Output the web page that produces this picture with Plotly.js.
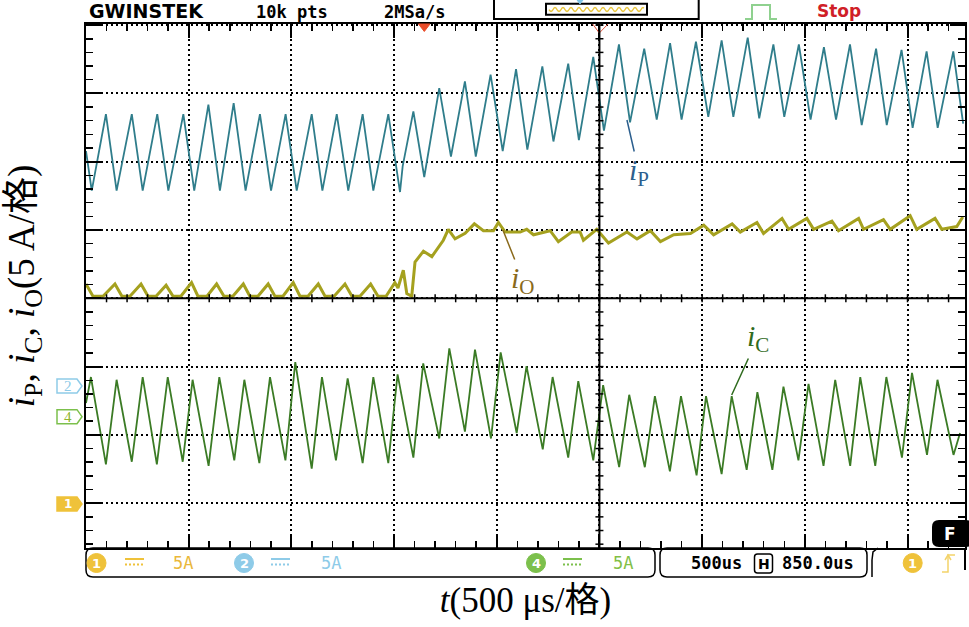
<!DOCTYPE html>
<html><head><meta charset="utf-8">
<script src="https://cdn.plot.ly/plotly-3.0.1.min.js"></script>
<style>html,body{margin:0;padding:0;background:#fff;}#chart{width:969px;height:627px;}#err{position:absolute;left:100px;top:100px;font:12px monospace;color:red;width:800px;white-space:pre-wrap;}</style>
</head><body><div id="chart"></div><div id="err"></div>
<script>
window.onerror = function(m,s,l,c,e){document.getElementById('err').textContent += 'ERR: '+m+' @'+l+':'+c+'\n'+(e&&e.stack?e.stack:'')+'\n';};
// ---- data (time in µs from left screen edge, current in A) ----
const ipT = [0,28,97,149,223,276,347,401,474,527,596,652,719,777,847,901,972,1026,1099,1151,1221,1277,1347,1399,1472,1504,1529,1542,1594,1647,1720,1777,1845,1898,1970,2029,2094,2149,2222,2276,2348,2400,2470,2522,2595,2649,2718,2779,2844,2900,2970,3030,3095,3152,3222,3278,3347,3400,3471,3528,3593,3652,3720,3777,3847,3899,3971,4025,4093,4147,4223,4271];
const ipA = [17.2,14.3,19.9,14.3,19.9,14.3,19.9,14.3,19.9,14.3,20.6,14.3,20.7,14.3,19.9,14.3,19.9,14.3,19.9,14.3,19.9,14.3,19.9,14.3,19.9,16.8,14.2,16.1,20.1,15.3,21.8,16.8,22.3,16.8,22.8,17.2,23.2,17.3,23.4,17.9,23.6,18.0,24.1,18.7,25.0,19.3,24.7,19.5,25.1,19.5,25.2,19.7,25.3,19.7,25.5,19.6,25.0,19.7,25.0,19.5,24.8,19.5,25.0,19.1,24.7,19.1,24.6,18.9,24.5,18.9,24.5,19.2];
const ioT = [0,34,83,141,175,214,268,302,341,390,424,462,514,545,589,636,672,715,766,798,837,887,920,959,1009,1042,1081,1131,1164,1208,1261,1295,1334,1386,1422,1461,1504,1519,1545,1562,1586,1602,1643,1684,1740,1764,1797,1846,1891,1935,1984,2008,2041,2114,2146,2179,2260,2300,2365,2406,2422,2487,2544,2634,2683,2748,2797,2862,2943,3008,3056,3146,3186,3267,3299,3389,3421,3510,3543,3632,3664,3762,3786,3883,3916,4013,4045,4134,4167,4240,4269];
const ioA = [16.1,15.2,15.2,16.1,15.2,15.2,16.1,15.2,15.2,16.0,15.2,15.2,16.2,15.2,15.2,16.1,15.2,15.2,16.1,15.2,15.2,16.1,15.2,15.2,16.2,15.2,15.2,16.1,15.2,15.2,16.1,15.2,15.2,16.1,15.2,15.2,16.2,15.8,17.1,15.4,15.2,17.7,18.5,18.1,19.3,20.1,19.4,19.8,20.5,20.0,20.0,20.6,19.9,19.9,20.1,19.7,20.0,19.2,19.9,19.9,19.3,20.1,19.1,19.9,19.4,20.0,19.2,19.7,19.8,20.4,19.7,20.5,19.9,20.6,19.8,20.9,20.1,20.9,20.1,20.7,20.0,20.9,20.1,20.8,20.1,21.1,20.1,20.9,20.1,20.3,21.0];
const icT = [0,24,97,149,223,276,345,398,471,519,597,649,722,771,844,896,971,1019,1099,1149,1217,1274,1347,1399,1472,1517,1594,1642,1720,1769,1845,1894,1972,2019,2097,2145,2224,2272,2348,2397,2470,2518,2596,2645,2721,2770,2843,2897,2973,3019,3095,3144,3217,3269,3342,3396,3469,3518,3591,3648,3721,3770,3843,3897,3973,4022,4095,4146,4224,4256];
const icA = [1.0,2.9,-3.5,2.7,-3.3,2.9,-3.5,2.9,-3.3,2.7,-3.6,2.9,-3.2,2.7,-3.4,2.9,-3.2,4.0,-3.8,2.9,-3.2,2.8,-3.4,2.9,-3.4,3.1,-3.0,3.9,-1.6,5.0,-1.1,4.9,-1.6,4.7,-1.2,3.7,-2.4,2.9,-3.0,2.6,-3.2,2.3,-3.7,1.6,-3.7,1.5,-4.0,1.5,-4.3,1.5,-4.2,1.5,-3.9,1.8,-3.9,2.2,-3.2,2.4,-3.6,2.7,-3.6,2.9,-3.6,2.9,-3.0,3.2,-2.8,2.7,-2.8,-1.2];

const ampsPerDiv = 5;
const offIP = -1.284, offIC = -1.733, offIO = -3.01;
const chanLabels = ['2','4','1'];
const scaleText = '5A', timebaseText = '500us', hposText = '850.0us';

const W=969,H=627,L=86,R=4,T=24,B=79;
const PW=W-L-R, PH=H-T-B;
const px = x => (x-L)/PW;
const py = y => (H-B-y)/PH;
const Y_MIN=-3.656, Y_MAX=4.016, X_MAX=4280;
const rng = g => [(Y_MIN-g)*ampsPerDiv,(Y_MAX-g)*ampsPerDiv];
const divP = d => (d-Y_MIN)/(Y_MAX-Y_MIN);

const cIP='#2f7d8b', cIO='#a5a11f', cIC='#3b7b25';

const traces = [
  {type:'scatter',x:ioT,y:ioA,xaxis:'x',yaxis:'y4',mode:'lines',line:{color:cIO,width:3},hoverinfo:'skip'},
  {type:'scatter',x:ipT,y:ipA,xaxis:'x',yaxis:'y2',mode:'lines',line:{color:cIP,width:1.8},hoverinfo:'skip'},
  {type:'scatter',x:icT,y:icA,xaxis:'x',yaxis:'y3',mode:'lines',line:{color:cIC,width:1.8},hoverinfo:'skip'}
];

const serif = 'Liberation Serif, Noto Sans CJK SC, serif';
const mono = 'DejaVu Sans Mono, monospace';
const sans = 'DejaVu Sans, sans-serif';

const shapes = [];
const ann = [];
function line(x0,y0,x1,y1,color,width,dash){shapes.push({type:'line',xref:'paper',yref:'paper',x0:px(x0),y0:py(y0),x1:px(x1),y1:py(y1),line:{color:color,width:width,dash:dash||'solid'},layer:'above'});}
function pathPx(pts,close,color,width,fill){
  let d = pts.map((p,i)=>(i?'L':'M')+px(p[0]).toFixed(5)+','+py(p[1]).toFixed(5)).join(' ')+(close?' Z':'');
  shapes.push({type:'path',xref:'paper',yref:'paper',path:d,line:{color:color,width:width},fillcolor:fill||'rgba(0,0,0,0)',layer:'above'});
}
function rrect(x0,y0,x1,y1,r,color,width,fill){
  const d = `M${px(x0+r)},${py(y0)} L${px(x1-r)},${py(y0)} Q${px(x1)},${py(y0)} ${px(x1)},${py(y0+r)} L${px(x1)},${py(y1-r)} Q${px(x1)},${py(y1)} ${px(x1-r)},${py(y1)} L${px(x0+r)},${py(y1)} Q${px(x0)},${py(y1)} ${px(x0)},${py(y1-r)} L${px(x0)},${py(y0+r)} Q${px(x0)},${py(y0)} ${px(x0+r)},${py(y0)} Z`;
  shapes.push({type:'path',xref:'paper',yref:'paper',path:d,line:{color:color,width:width},fillcolor:fill||'rgba(0,0,0,0)',layer:'above'});
}
function circ(cx,cy,r,fill){shapes.push({type:'circle',xref:'paper',yref:'paper',x0:px(cx-r),x1:px(cx+r),y0:py(cy+r),y1:py(cy-r),line:{color:fill,width:1},fillcolor:fill,layer:'above'});}
function txt(x,y,s,font,opts){ann.push(Object.assign({xref:'paper',yref:'paper',x:px(x),y:py(y),text:s,showarrow:false,font:font,xanchor:'center',yanchor:'middle'},opts||{}));}

txt(146,11,'<b>GWINSTEK</b>',{family:sans,size:19,color:'black'});
txt(291.5,12,'<b>10k pts</b>',{family:mono,size:17,color:'black'});
txt(414,12,'<b>2MSa/s</b>',{family:mono,size:17,color:'black'});
txt(838.5,11,'<b>Stop</b>',{family:sans,size:17,color:'#d01f28'});
pathPx([[494,-2],[494,19],[698.7,19],[698.7,-2]],false,'black',2);
pathPx([[546,3.7],[647,3.7],[647,14.7],[546,14.7]],true,'black',2,'white');
(function(){const pts=[];for(let x=549;x<=644;x+=1){pts.push([x,9.5+2*Math.sin((x-549)/8*2*Math.PI)]);}pathPx(pts,false,'#e9c53a',1.3);})();
pathPx([[577,0],[583,0],[580,4]],true,'#7ec3e6',1,'#7ec3e6');
pathPx([[745,19],[752,19],[752,5],[770,5],[770,19],[777,19]],false,'#8fd18f',2);
pathPx([[418.5,24],[430,24],[424.3,31.5]],true,'#ea4d2a',1,'#ea4d2a');
pathPx([[592.7,24],[599.3,33],[608,24]],false,'#e0503a',1);

const markerCfg = [
  {g:offIP, line:'#8ecbe8', fill:'white', tc:'#8ecbe8'},
  {g:offIC, line:'#7cc04c', fill:'white', tc:'#8fb52c'},
  {g:offIO, line:'#efc23a', fill:'#efc23a', tc:'white'}
];
markerCfg.forEach((m,i)=>{
  shapes.push({type:'path',xref:'paper',yref:'paper',xsizemode:'pixel',ysizemode:'pixel',xanchor:0,yanchor:divP(m.g),
    path:'M-29,-7 L-9,-7 L-4,0 L-9,7 L-29,7 Z',line:{color:m.line,width:1.5},fillcolor:m.fill,layer:'above'});
  ann.push({xref:'paper',yref:'paper',x:0,y:divP(m.g),xshift:-18,text:i===2?'<b>'+chanLabels[i]+'</b>':chanLabels[i],showarrow:false,
    font:{family:i===2?sans:serif,size:i===2?12:15,color:m.tc},xanchor:'center',yanchor:'middle'});
});

rrect(86,548,655,577,7,'black',1.5);
rrect(660,548,867,577,7,'black',1.5);
pathPx([[878,548],[873,552],[872,560],[872,577]],false,'black',1.5);
line(965,548,965,570,'black',2);
function chanBadge(cx,col,num,dcx,textx,tc){
  circ(cx,563,9.5,col);
  txt(cx,563.5,'<b>'+num+'</b>',{family:sans,size:13,color:'white'});
  line(dcx,559,dcx+19,559,col,2);
  line(dcx,564.5,dcx+19,564.5,col,2,'2px,2px');
  txt(textx,563,scaleText,{family:mono,size:17,color:tc||col});
}
chanBadge(96.5,'#efc23a','1',125,183,'#eab83a');
chanBadge(244,'#8ecbe8','2',271,330.5,'#8ecbe8');
chanBadge(536,'#7cc04c','4',563,622.5,'#82bf46');
txt(716,563,'<b>'+timebaseText+'</b>',{family:mono,size:17,color:'black'});
rrect(754.5,554,772.5,573,3,'black',1.5,'white');
txt(763.5,563.5,'<b>H</b>',{family:sans,size:14,color:'black'});
txt(818,563,'<b>'+hposText+'</b>',{family:mono,size:17,color:'black'});
circ(912.7,563,9.5,'#efc23a');
txt(912.7,563.5,'<b>1</b>',{family:sans,size:13,color:'white'});
pathPx([[942,572],[948,572],[948,555],[955,555]],false,'#f3d36a',1.5);
pathPx([[945,560],[948,555],[951,560]],false,'#f3d36a',1.5);
rrect(933,521,972,546,6,'black',2,'black');
txt(950,533.5,'<b>F</b>',{family:sans,size:17,color:'white'});

const labFont = c => ({family:serif,size:30,color:c});
ann.push({xref:'x',yref:'y',x:2634,y:2.61,ax:12,ay:52,text:'<i>i</i><sub>P</sub>',showarrow:true,arrowhead:0,arrowwidth:1.5,arrowcolor:'#2c5f8e',font:labFont('#2c5f8e')});
ann.push({xref:'x',yref:'y',x:2030,y:1.0,ax:20,ay:50,text:'<i>i</i><sub>O</sub>',showarrow:true,arrowhead:0,arrowwidth:1.5,arrowcolor:'#8a6a1c',font:labFont('#8a6a1c')});
ann.push({xref:'x',yref:'y',x:3144,y:-1.416,ax:26,ay:-57,text:'<i>i</i><sub>C</sub>',showarrow:true,arrowhead:0,arrowwidth:1.5,arrowcolor:'#2f6b1e',font:labFont('#2f6b1e')});

// centre cross of the graticule with 0.2-div tick marks
shapes.push({type:'line',xref:'x',yref:'paper',x0:2500,x1:2500,y0:0,y1:1,line:{color:'black',width:2},layer:'above'});
shapes.push({type:'line',xref:'paper',yref:'y',x0:0,x1:1,y0:0,y1:0,line:{color:'black',width:2},layer:'above'});
for(let k=1;k<X_MAX/100;k++){
  shapes.push({type:'line',xref:'x',yref:'y',ysizemode:'pixel',yanchor:0,x0:k*100,x1:k*100,y0:-4,y1:4,line:{color:'black',width:1.5},layer:'above'});
}
for(let d=Math.ceil(Y_MIN*5);d<=Math.floor(Y_MAX*5);d++){
  if(d===0) continue;
  shapes.push({type:'line',xref:'x',yref:'y',xsizemode:'pixel',xanchor:2500,x0:-4,x1:4,y0:d/5,y1:d/5,line:{color:'black',width:1.5},layer:'above'});
}

const hiddenY = r => ({overlaying:'y',range:r,visible:false,showgrid:false,zeroline:false});

const layout = {
  width:W,height:H,margin:{l:L,r:R,t:T,b:B},paper_bgcolor:'white',plot_bgcolor:'white',showlegend:false,
  xaxis:{range:[0,X_MAX],showline:true,linecolor:'black',linewidth:2,mirror:'ticks',ticks:'inside',ticklen:14,tickwidth:2,tickcolor:'black',
    tickmode:'linear',dtick:500,tick0:0,showticklabels:false,showgrid:true,gridcolor:'black',gridwidth:2,griddash:'2px,3px',zeroline:false,
    minor:{dtick:100,ticks:'inside',ticklen:7,tickwidth:1.5,tickcolor:'black',showgrid:false},
    title:{text:'<i>t</i>(500 μs/格)',font:{family:serif,size:35,color:'black'},standoff:38}},
  yaxis:{range:[Y_MIN,Y_MAX],showline:true,linecolor:'black',linewidth:2,mirror:'ticks',ticks:'inside',ticklen:15,tickwidth:2,tickcolor:'black',
    tickmode:'linear',dtick:1,tick0:0,showticklabels:false,showgrid:true,gridcolor:'black',gridwidth:2,griddash:'2px,3px',zeroline:false,
    minor:{dtick:0.2,ticks:'inside',ticklen:7,tickwidth:1.5,tickcolor:'black',showgrid:false},
    title:{text:'<i>i</i><sub>P</sub>, <i>i</i><sub>C</sub>, <i>i</i><sub>O</sub>(5 A/格)',font:{family:serif,size:37,color:'black'},standoff:38}},
  yaxis2:hiddenY(rng(offIP)),
  yaxis3:hiddenY(rng(offIC)),
  yaxis4:hiddenY(rng(offIO)),
  shapes:shapes,annotations:ann
};
try {
  const p = Plotly.newPlot('chart',traces,layout,{staticPlot:true,displayModeBar:false});
  if(p && p.catch) p.catch(e=>{document.getElementById('err').textContent += 'PROMISE: '+e+'\n'+(e&&e.stack||'');});
} catch(e){ document.getElementById('err').textContent += 'CATCH: '+e+'\n'+(e.stack||''); }
</script></body></html>
